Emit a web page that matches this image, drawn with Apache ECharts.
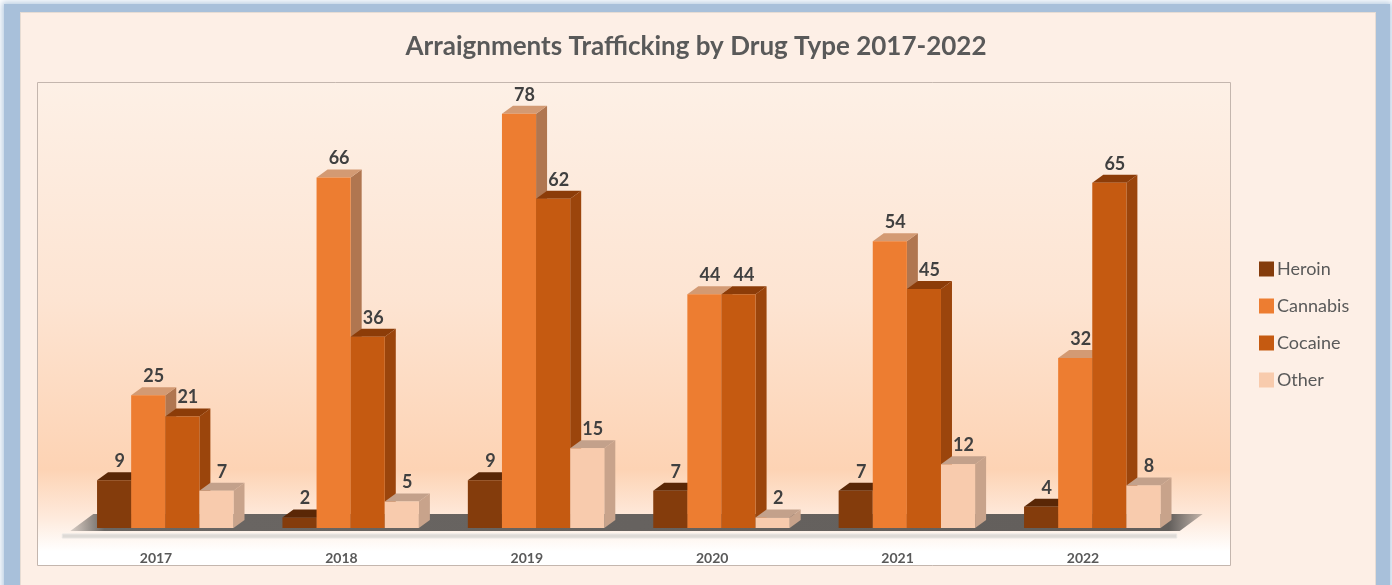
<!DOCTYPE html>
<html>
<head>
<meta charset="utf-8">
<script src="https://cdn.jsdelivr.net/npm/echarts@6/dist/echarts.min.js"></script>
<style>
  html, body { margin: 0; padding: 0; width: 1392px; height: 585px; overflow: hidden; background: #ffffff; }
  #frame { position: absolute; left: 4px; top: 4px; width: 1386px; height: 620px; background: #a8c0da; box-shadow: 0 0 6px 2px #b9cde2; }
  #panel { position: absolute; left: 20px; top: 12px; width: 1354px; height: 620px; background: #fdefe6; border: 1px solid #e6dcd4; }
  #chart { position: absolute; left: 0; top: 0; width: 1392px; height: 585px; }
</style>
</head>
<body>
<div id="frame"></div>
<div id="panel"></div>
<div id="chart"></div>
<script>
// Arraignments for trafficking, by drug type and year
const years = ['2017', '2018', '2019', '2020', '2021', '2022'];
const seriesNames = ['Heroin', 'Cannabis', 'Cocaine', 'Other'];
const heroin = [9, 2, 9, 7, 7, 4];
const cannabis = [25, 66, 78, 44, 54, 32];
const cocaine = [21, 36, 62, 44, 45, 65];
const other = [7, 5, 15, 2, 12, 8];

// face colours for each column: front, top, side
const palette = [
  { front: '#843c0c', top: '#5a2706', side: '#6a3008' },
  { front: '#ed7d31', top: '#d39a73', side: '#b07650' },
  { front: '#c55a11', top: '#8c3c08', side: '#9b450c' },
  { front: '#f8cbad', top: '#c3a18b', side: '#c8a38b' }
];

const FONT = 'Lato, "Open Sans", sans-serif';
const DX = 11, DY = 8;          // depth offset of the 3D columns
const BAR_FRAC = 0.184;         // column width as a share of the category band
const START_FRAC = -0.318;      // left of the first column relative to band centre

function columnRenderer(k) {
  return function (params, api) {
    const idx = api.value(0);
    const v = api.value(1);
    const base = api.coord([idx, 0]);
    const top = api.coord([idx, v]);
    const band = api.size([1, 0])[0];
    const bw = band * BAR_FRAC;
    const x0 = base[0] + band * START_FRAC + k * bw;
    const x1 = x0 + bw;
    const yb = base[1];
    const yt = top[1];
    const c = palette[k];
    return {
      type: 'group',
      children: [
        { type: 'polygon', shape: { points: [[x1, yt], [x1 + DX, yt - DY], [x1 + DX, yb - DY], [x1, yb]] },
          style: { fill: c.side } },
        { type: 'polygon', shape: { points: [[x0, yt], [x0 + DX, yt - DY], [x1 + DX, yt - DY], [x1, yt]] },
          style: { fill: c.top } },
        { type: 'rect', shape: { x: x0, y: yt, width: bw, height: yb - yt },
          style: { fill: c.front } },
        { type: 'text', z2: 10,
          style: { x: (x0 + x1) / 2 + DX / 2, y: yt - DY - 2, text: String(v),
                   align: 'center', verticalAlign: 'bottom',
                   fill: '#404040', font: 'bold 18px ' + FONT } }
      ]
    };
  };
}

function floorRenderer(params, api) {
  const cs = params.coordSys;
  const yb = api.coord([0, 0])[1];
  const left = cs.x, right = cs.x + cs.width;
  return {
    type: 'group',
    children: [
      { type: 'polygon',
        shape: { points: [[left + 7, yb + 3], [left + 30, yb - 14], [right + 27, yb - 14], [right + 4, yb + 3]] },
        style: { fill: new echarts.graphic.LinearGradient(0, 0, 1, 0, [
          { offset: 0, color: 'rgba(110,106,102,0.25)' },
          { offset: 0.03, color: '#6a6663' },
          { offset: 0.97, color: '#625e5b' },
          { offset: 1, color: 'rgba(90,86,83,0.35)' }
        ]) } },
      { type: 'rect', shape: { x: left - 1, y: yb + 6, width: cs.width + 2, height: 4 },
        style: { fill: '#dedad6', stroke: '#e9e6e3', lineWidth: 1 } }
    ]
  };
}

const valueLists = [heroin, cannabis, cocaine, other];

const series = [{
  type: 'custom', name: 'floor', silent: true,
  renderItem: floorRenderer,
  data: [[0, 0]], encode: { x: 0, y: 1 }
}];
seriesNames.forEach(function (name, k) {
  series.push({
    type: 'custom',
    name: name,
    renderItem: columnRenderer(k),
    itemStyle: { color: palette[k].front },
    encode: { x: 0, y: 1 },
    data: years.map(function (y, i) { return [i, valueLists[k][i]]; })
  });
});

const chart = echarts.init(document.getElementById('chart'), null, { renderer: 'canvas' });
chart.setOption({
  backgroundColor: 'transparent',
  animation: false,
  title: {
    text: 'Arraignments Trafficking by Drug Type 2017-2022',
    left: 'center', top: 29,
    textStyle: { fontFamily: FONT, fontSize: 26, fontWeight: 'bold', color: '#595959' }
  },
  graphic: [{
    type: 'rect', z: -10, silent: true,
    shape: { x: 37.5, y: 82.5, width: 1193, height: 483 },
    style: {
      stroke: '#c4b6ae', lineWidth: 1,
      fill: new echarts.graphic.LinearGradient(0, 0, 0, 1, [
        { offset: 0, color: '#fdf0e6' },
        { offset: 0.45, color: '#fde4d2' },
        { offset: 0.8, color: '#fdd3b4' },
        { offset: 0.9, color: '#feeadc' },
        { offset: 0.97, color: '#ffffff' },
        { offset: 1, color: '#ffffff' }
      ])
    }
  }],
  legend: {
    orient: 'vertical', left: 1259, top: 260, padding: 0,
    itemWidth: 15, itemHeight: 15, itemGap: 19,
    icon: 'rect',
    data: seriesNames,
    textStyle: { fontFamily: FONT, fontSize: 18, color: '#595959', padding: [0, 0, 0, -2] }
  },
  grid: { left: 63.3, right: 216.3, top: 103.2, bottom: 57 },
  xAxis: {
    type: 'category', data: years,
    axisLine: { show: false }, axisTick: { show: false },
    axisLabel: { margin: 23, fontFamily: FONT, fontSize: 14, fontWeight: 'bold', color: '#595959' }
  },
  yAxis: {
    type: 'value', min: 0, max: 80,
    show: false, splitLine: { show: false }
  },
  series: series
});
</script>
</body>
</html>
